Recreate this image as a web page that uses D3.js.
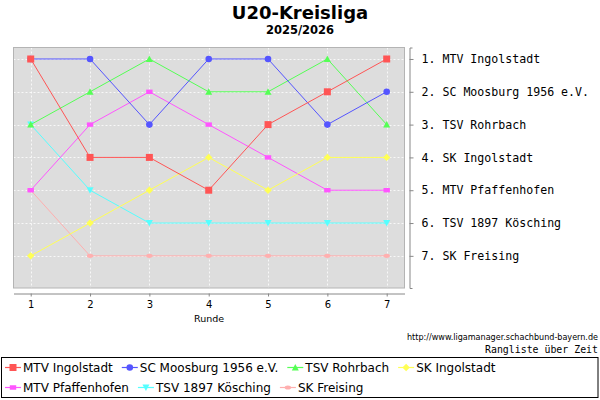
<!DOCTYPE html>
<html><head><meta charset="utf-8">
<script src="https://cdn.jsdelivr.net/npm/d3@7"></script>
<style>body{margin:0;background:#fff}svg{display:block}</style>
</head><body>
<svg id="c" width="600" height="400"></svg>
<script>
const rounds = [1,2,3,4,5,6,7];
const teams = ["MTV Ingolstadt","SC Moosburg 1956 e.V.","TSV Rohrbach","SK Ingolstadt","MTV Pfaffenhofen","TSV 1897 Kösching","SK Freising"];
const rankLabels = ["1. MTV Ingolstadt","2. SC Moosburg 1956 e.V.","3. TSV Rohrbach","4. SK Ingolstadt","5. MTV Pfaffenhofen","6. TSV 1897 Kösching","7. SK Freising"];
const mtvIngolstadt   = [1,4,4,5,3,2,1];
const scMoosburg      = [1,1,3,1,1,3,2];
const tsvRohrbach     = [3,2,1,2,2,1,3];
const skIngolstadt    = [7,6,5,4,5,4,4];
const mtvPfaffenhofen = [5,3,2,3,4,5,5];
const tsvKoesching    = [3,5,6,6,6,6,6];
const skFreising      = [5,7,7,7,7,7,7];
const seriesValues = [mtvIngolstadt, scMoosburg, tsvRohrbach, skIngolstadt, mtvPfaffenhofen, tsvKoesching, skFreising];
const colors = ["#ff5555","#5555ff","#55ff55","#ffff55","#ff55ff","#55ffff","#ffafaf"];
const shapes = ["square","circle","triUp","diamond","rect","triDown","ellipse"];

const svg = d3.select("#c");
const PL = 13.5, PR = 404.5, PT = 47.5, PB = 288;
const x = d3.scaleLinear().domain([0.71, 7.3]).range([PL, PR]);
const y = d3.scaleLinear().domain([0.65, 7.98]).range([PT, PB]);

function shapePath(kind, cx, cy){
  switch(kind){
    case "square": return `M${cx-3.5},${cy-3.5}h7v7h-7z`;
    case "circle": return `M${cx-3.3},${cy}a3.3,3.3 0 1,0 6.6,0a3.3,3.3 0 1,0 -6.6,0z`;
    case "triUp": return `M${cx},${cy-3.5}L${cx+3.5},${cy+3}L${cx-3.5},${cy+3}z`;
    case "triDown": return `M${cx},${cy+3.5}L${cx+3.5},${cy-3}L${cx-3.5},${cy-3}z`;
    case "diamond": return `M${cx},${cy-3.7}L${cx+3.7},${cy}L${cx},${cy+3.7}L${cx-3.7},${cy}z`;
    case "rect": return `M${cx-3.2},${cy-2.2}h6.4v4.4h-6.4z`;
    case "ellipse": return `M${cx-3.2},${cy}a3.2,2.1 0 1,0 6.4,0a3.2,2.1 0 1,0 -6.4,0z`;
  }
}

// title
svg.append("text").attr("x",300).attr("y",19).attr("text-anchor","middle")
  .attr("font-family","DejaVu Sans").attr("font-weight","bold").attr("font-size",18).text("U20-Kreisliga");
svg.append("text").attr("x",300).attr("y",34).attr("text-anchor","middle")
  .attr("font-family","DejaVu Sans").attr("font-weight","bold").attr("font-size",11.5).text("2025/2026");

// plot background
svg.append("rect").attr("x",PL).attr("y",PT).attr("width",PR-PL).attr("height",PB-PT)
  .attr("fill","#dddddd");
// gridlines
const grid = svg.append("g").attr("stroke","#ffffff").attr("stroke-width",0.8).attr("stroke-dasharray","2,2");
rounds.forEach(r=>grid.append("line").attr("x1",Math.round(x(r))+0.5).attr("x2",Math.round(x(r))+0.5).attr("y1",PT).attr("y2",PB));
rankLabels.forEach((l,i)=>grid.append("line").attr("y1",Math.round(y(i+1))+0.5).attr("y2",Math.round(y(i+1))+0.5).attr("x1",PL).attr("x2",PR));
svg.append("rect").attr("x",PL).attr("y",PT).attr("width",PR-PL).attr("height",PB-PT)
  .attr("fill","none").attr("stroke","#b4b4b4").attr("stroke-width",1);

// lines and markers (draw last series first so earlier ones are on top)
const line = d3.line().x((d,i)=>x(rounds[i])).y(d=>y(d));
for(let s=seriesValues.length-1;s>=0;s--){
  const g = svg.append("g");
  g.append("path").attr("d",line(seriesValues[s])).attr("fill","none").attr("stroke",colors[s]).attr("stroke-width",1);
  seriesValues[s].forEach((v,i)=>{
    g.append("path").attr("d",shapePath(shapes[s], x(rounds[i]), y(v))).attr("fill",colors[s]);
  });
}

// bottom axis
const xa = svg.append("g").attr("transform","translate(0,293.5)")
  .call(d3.axisBottom(x).tickValues(rounds).tickFormat(d3.format("d")).tickSize(3).tickSizeOuter(0).tickPadding(4));
xa.select(".domain").attr("stroke","#888");
xa.selectAll(".tick line").attr("stroke","#888");
xa.selectAll("text").attr("font-family","DejaVu Sans").attr("font-size",10).attr("fill","#000");
svg.append("text").attr("x",209).attr("y",322).attr("text-anchor","middle")
  .attr("font-family","DejaVu Sans").attr("font-size",9.5).text("Runde");

// right axis
const ya = svg.append("g").attr("transform","translate(409.5,0)")
  .call(d3.axisRight(y).tickValues(d3.range(1,8)).tickFormat(d=>rankLabels[d-1]).tickSize(4).tickSizeOuter(3).tickPadding(8));
ya.select(".domain").attr("stroke","#888");
ya.selectAll(".tick line").attr("stroke","#888");
ya.selectAll("text").attr("font-family","DejaVu Sans Mono").attr("font-size",11.6).attr("fill","#000");

// source texts
svg.append("text").attr("x",598).attr("y",340).attr("text-anchor","end")
  .attr("font-family","DejaVu Sans Condensed").attr("font-size",8).attr("textLength",191).attr("lengthAdjust","spacingAndGlyphs")
  .text("http://www.ligamanager.schachbund-bayern.de");
svg.append("text").attr("x",598).attr("y",353).attr("text-anchor","end")
  .attr("font-family","DejaVu Sans Mono").attr("font-size",9.9).text("Rangliste über Zeit");

// legend
svg.append("rect").attr("x",1.5).attr("y",357.5).attr("width",596.5).attr("height",40).attr("fill","#fff").attr("stroke","#000").attr("stroke-width",1);
const rows = [[0,1,2,3],[4,5,6]];
rows.forEach((row,ri)=>{
  let cx = 5;
  const cy = 367.5 + ri*20;
  row.forEach(s=>{
    const g = svg.append("g");
    g.append("line").attr("x1",cx).attr("x2",cx+16).attr("y1",cy).attr("y2",cy).attr("stroke",colors[s]).attr("stroke-width",1.2);
    g.append("path").attr("d",shapePath(shapes[s], cx+8, cy)).attr("fill",colors[s]);
    const t = g.append("text").attr("x",cx+18).attr("y",cy+4.5).attr("font-family","DejaVu Sans").attr("font-size",12).text(teams[s]);
    cx += 18 + t.node().getComputedTextLength() + 9;
  });
});
</script>
</body></html>
